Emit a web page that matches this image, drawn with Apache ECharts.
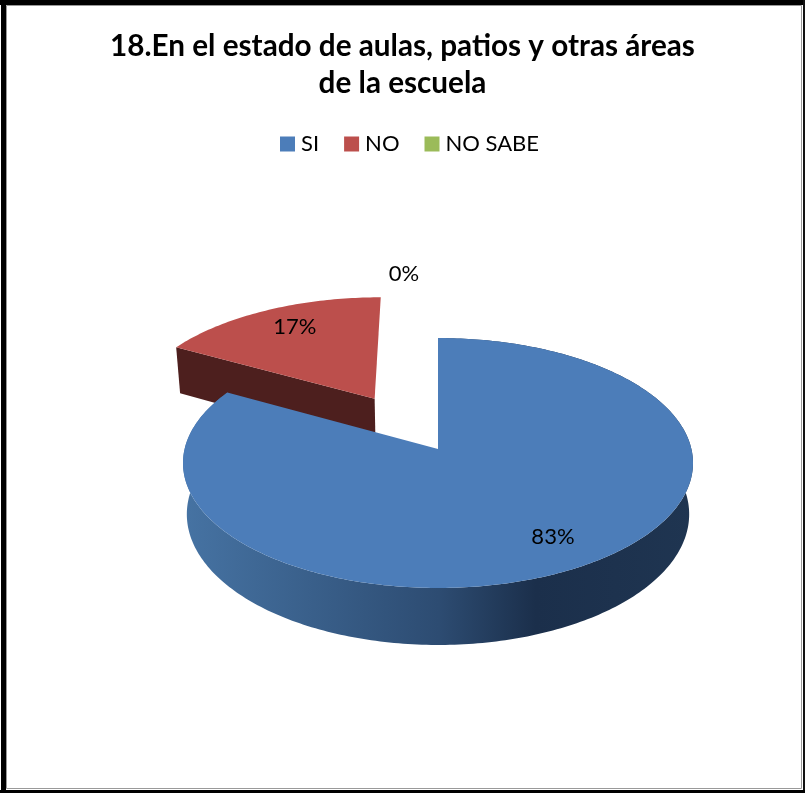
<!DOCTYPE html>
<html>
<head>
<meta charset="utf-8">
<style>html,body{margin:0;padding:0;background:#fff}#c{width:805px;height:793px}</style>
<script src="https://cdn.jsdelivr.net/npm/echarts@6/dist/echarts.min.js"></script>
</head>
<body>
<div id="c"></div>
<script>
const titleText = '18.En el estado de aulas, patios y otras áreas\nde la escuela';
const categories = ['SI', 'NO', 'NO SABE'];
const values = [83, 17, 0];
const labels = ['83%', '17%', '0%'];
const colors = ['#4c7db9', '#bc4f4c', '#9bbb59'];
const explode = [0, 0.5, 0];

const FONT = 'Lato, "Open Sans", sans-serif';
// perspective projection of the tilted pie
const view = { cx: 438, cy: 449, a: 253.4, b: 123.4, k: 0.112, depth: 50.6, narrow: 0.015 };
const explodeTurn = [0, 1, 0];
const labelRadius = [0.78, 0.78, 1.7];
const labelTurn = [-2, 2, -5.4];
const total = values.reduce((s, v) => s + v, 0);

function project(u, v, h) {
  const w = 1 + view.k * v;
  return [
    view.cx + view.a * u / w * (1 - view.narrow * h),
    view.cy - view.b * v / w + view.depth * h / w
  ];
}
function sliceRange(i) {
  let s = 0;
  for (let j = 0; j < i; j++) s += values[j];
  return [s / total * 2 * Math.PI, (s + values[i]) / total * 2 * Math.PI];
}
function arc(a0, a1, off, h) {
  const n = Math.max(2, Math.ceil(Math.abs(a1 - a0) * 60));
  const pts = [];
  for (let t = 0; t <= n; t++) {
    const a = a0 + (a1 - a0) * t / n;
    pts.push(project(off[0] + Math.sin(a), off[1] + Math.cos(a), h));
  }
  return pts;
}
const wallBlue = () => new echarts.graphic.LinearGradient(183, 0, 694, 0, [
  { offset: 0, color: '#4673a3' },
  { offset: 0.5, color: '#2d4c72' },
  { offset: 0.69, color: '#1b2f4b' },
  { offset: 1, color: '#1f3551' }
], true);

function renderSlice(i) {
  return function (params, api) {
    const value = api.value(0);
    const [a0, a1] = sliceRange(i);
    const mid = (a0 + a1) / 2;
    const dir = mid - explodeTurn[i] * Math.PI / 180;
    const off = [explode[i] * Math.sin(dir), explode[i] * Math.cos(dir)];
    const children = [];
    if (value > 0) {
      const top = arc(a0, a1, off, 0);
      const bottom = arc(a0, a1, off, 1);
      const apexT = project(off[0], off[1], 0);
      const apexB = project(off[0], off[1], 1);
      if (i === 0) {
        children.push({
          type: 'polygon',
          shape: { points: top.concat(bottom.slice().reverse()) },
          style: { fill: wallBlue() }
        });
      } else {
        children.push({
          type: 'polygon',
          shape: { points: [top[0], apexT, apexB, bottom[0]] },
          style: { fill: '#4d1f1e' }
        });
      }
      children.push({
        type: 'polygon',
        shape: { points: [apexT].concat(top) },
        style: { fill: api.visual('color') }
      });
    }
    const la = mid + labelTurn[i] * Math.PI / 180;
    const p = project(off[0] + labelRadius[i] * Math.sin(la), off[1] + labelRadius[i] * Math.cos(la), 0);
    children.push({
      type: 'text',
      z2: 10,
      style: {
        x: p[0], y: p[1], text: labels[i], fill: '#000',
        font: '22px ' + FONT, align: 'center', verticalAlign: 'middle'
      }
    });
    return { type: 'group', children };
  };
}

const chart = echarts.init(document.getElementById('c'), null, { renderer: 'canvas' });
chart.setOption({
  animation: false,
  backgroundColor: '#fff',
  title: {
    text: titleText,
    left: 'center',
    top: 23,
    textStyle: { fontFamily: FONT, fontSize: 29.7, fontWeight: 'bold', color: '#000', lineHeight: 37 }
  },
  legend: {
    data: categories,
    left: 275,
    top: 128,
    icon: 'rect',
    itemWidth: 15,
    itemHeight: 15,
    itemGap: 25,
    textStyle: { fontFamily: FONT, fontSize: 22, color: '#000', padding: [0, 0, 0, 1] }
  },
  series: categories.map((name, i) => ({
    type: 'custom',
    name,
    coordinateSystem: 'none',
    z: i === 0 ? 3 : 2,
    silent: true,
    itemStyle: { color: colors[i] },
    renderItem: renderSlice(i),
    data: [[values[i]]],
    encode: { value: 0 }
  })),
  graphic: [
    { type: 'rect', shape: { x: 6.5, y: 5.5, width: 795, height: 783 }, style: { fill: 'none', stroke: '#999', lineWidth: 1 } },
    { type: 'rect', shape: { x: 1, y: 0, width: 5, height: 793 }, style: { fill: '#000' } },
    { type: 'rect', shape: { x: 0, y: 0, width: 805, height: 5 }, style: { fill: '#000' } },
    { type: 'rect', shape: { x: 803, y: 0, width: 2, height: 793 }, style: { fill: '#111' } },
    { type: 'rect', shape: { x: 0, y: 790, width: 805, height: 3 }, style: { fill: '#000' } }
  ]
});
</script>
</body>
</html>
